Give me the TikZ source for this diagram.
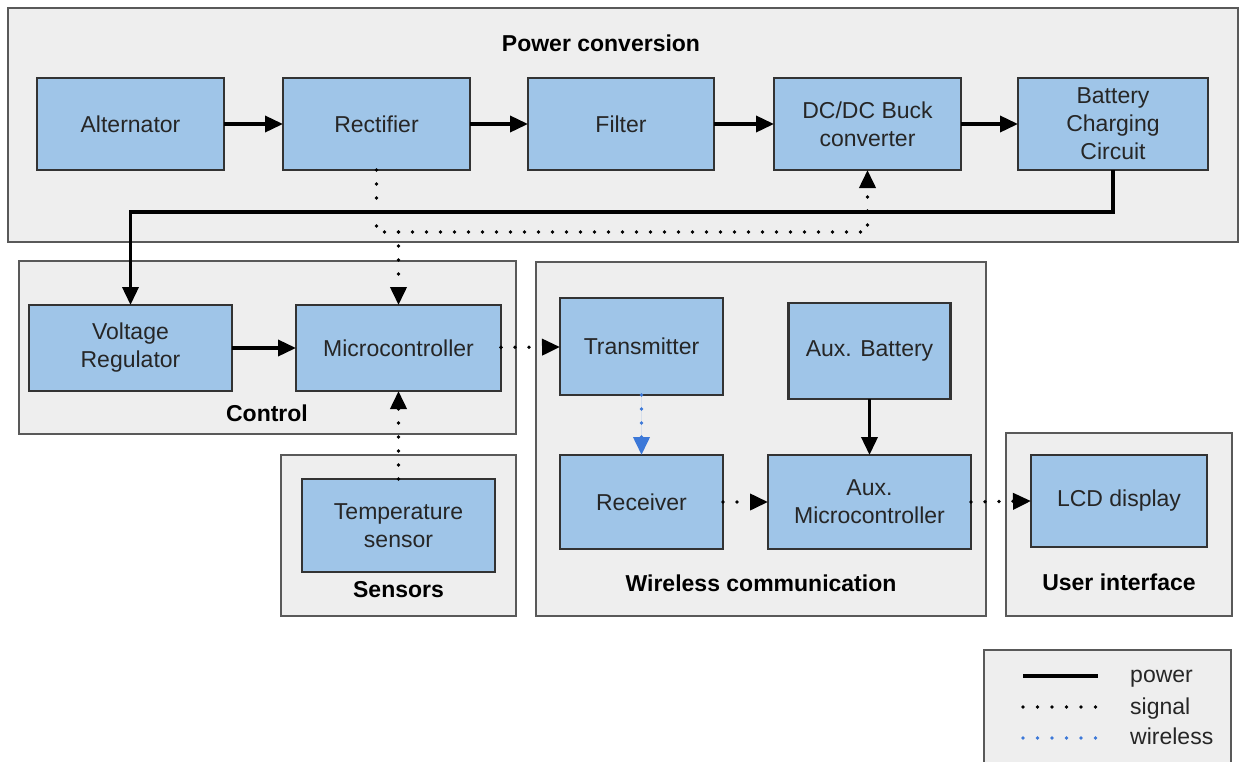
\documentclass[tikz,border=0pt]{standalone}
\usepackage{fontspec}
\setmainfont{Liberation Sans}
\usetikzlibrary{arrows.meta}
\definecolor{blkfill}{HTML}{9FC5E8}
\definecolor{blkline}{HTML}{333333}
\definecolor{grpfill}{HTML}{EEEEEE}
\definecolor{grpline}{HTML}{595959}
\definecolor{txtcol}{HTML}{262626}
\definecolor{wlscol}{HTML}{3C78D8}
\begin{document}
\begin{tikzpicture}[x=1pt,y=-1pt,
  font=\fontsize{23}{28}\selectfont, text=txtcol,
  grp/.style={draw=grpline, fill=grpfill, line width=2.2pt, inner sep=0pt, outer sep=0pt},
  grptitle/.style={font=\fontsize{23}{28}\selectfont\bfseries, text=black},
  blk/.style={draw=blkline, fill=blkfill, line width=2.2pt, inner sep=0pt, outer sep=0pt,
    align=center},
  tip/.style={-{Triangle[length=18pt,width=16pt]}},
  pwr/.style={tip, line width=3.6pt, black},
  sig/.style={tip, line width=3.8pt, black, line cap=round, dash pattern=on 0pt off 14pt},
  wls/.style={sig, draw=wlscol, fill=wlscol},
  key/.style={anchor=base west, inner sep=0pt}
]
\useasboundingbox (0,0) rectangle (1239,761);

% group frames
\node[grp, minimum width=1230, minimum height=234] (gpower) at (623,125) {};
\node[grp, minimum width=497, minimum height=173] (gctrl) at (267.5,347.5) {};
\node[grp, minimum width=235, minimum height=161] (gsens) at (398.5,535.5) {};
\node[grp, minimum width=450, minimum height=354] (gwless) at (761,439) {};
\node[grp, minimum width=226, minimum height=183] (gui) at (1119,524.5) {};

% group titles
\node[grptitle] (tpower) at (601,43) {Power conversion};
\node[grptitle] (tctrl) at (267,413) {Control};
\node[grptitle] (tsens) at (398.5,590) {Sensors};
\node[grptitle] (twless) at (761,583) {Wireless communication};
\node[grptitle] (tui) at (1119,582) {User interface};

% power conversion chain
\node[blk, minimum width=187, minimum height=92] (alt) at (130.5,124) {Alternator};
\node[blk, minimum width=187, minimum height=92] (rect) at (376.5,124) {Rectifier};
\node[blk, minimum width=186, minimum height=92] (filt) at (621,124) {Filter};
\node[blk, minimum width=187, minimum height=92] (dcdc) at (867.5,124) {DC/DC Buck\\converter};
\node[blk, minimum width=190, minimum height=92] (batt) at (1113,124) {Battery\\Charging\\Circuit};

% control and sensing
\node[blk, minimum width=203, minimum height=86] (vreg) at (130.5,348) {Voltage\\Regulator};
\node[blk, minimum width=205, minimum height=86] (mcu) at (398.5,348) {Microcontroller};
\node[blk, minimum width=193, minimum height=93] (temp) at (398.5,525.5) {Temperature\\sensor};

% wireless link
\node[blk, minimum width=163, minimum height=97] (tx) at (641.5,346.5) {Transmitter};
\node[blk, minimum width=162, minimum height=96] (abat) at (869.5,351) {Aux. Battery};
\node[blk, minimum width=163, minimum height=94] (rx) at (641.5,502) {Receiver};
\node[blk, minimum width=203, minimum height=94] (amcu) at (869.5,502) {Aux.\\Microcontroller};

% user interface
\node[blk, minimum width=176, minimum height=92] (lcd) at (1119,501) {LCD display};

% power paths
\draw[pwr] (alt) -- (rect);
\draw[pwr] (rect) -- (filt);
\draw[pwr] (filt) -- (dcdc);
\draw[pwr] (dcdc) -- (batt);
\coordinate (pbus) at (0,212);
\draw[pwr] (batt.south) |- (vreg.north |- pbus) -- (vreg.north);
\draw[pwr] (vreg) -- (mcu);
\draw[pwr] (abat.south) -- (amcu.north);

% signal paths
\coordinate (sbus) at (0,232);
\draw[sig] (rect.south) |- (dcdc.south |- sbus) -- (dcdc.south);
\draw[sig] (mcu.north |- sbus) -- (mcu.north);
\draw[sig] (temp) -- (mcu);
\draw[sig] (mcu) -- (tx);
\draw[sig] (rx) -- (amcu);
\draw[sig] (amcu.east) -- (lcd.west);

% wireless path
\draw[wls] (tx) -- (rx);

% legend
\node[grp, minimum width=247, minimum height=125, anchor=north west] (legend) at (984,650) {};
\coordinate (lp1) at (1023,676); \coordinate (lp2) at (1098,676);
\coordinate (ls1) at (1023,707); \coordinate (ls2) at (1098,707);
\coordinate (lw1) at (1023,738); \coordinate (lw2) at (1098,738);
\draw[line width=3.6pt, black] (lp1) -- (lp2);
\draw[line width=3.6pt, black, line cap=round, dash pattern=on 0pt off 14.5pt] (ls1) -- (ls2);
\draw[line width=3.6pt, wlscol, line cap=round, dash pattern=on 0pt off 14.5pt] (lw1) -- (lw2);
\node[key] (kpower) at (1130,682) {power};
\node[key] (ksignal) at (1130,714) {signal};
\node[key] (kwless) at (1130,744) {wireless};
\end{tikzpicture}
\end{document}
